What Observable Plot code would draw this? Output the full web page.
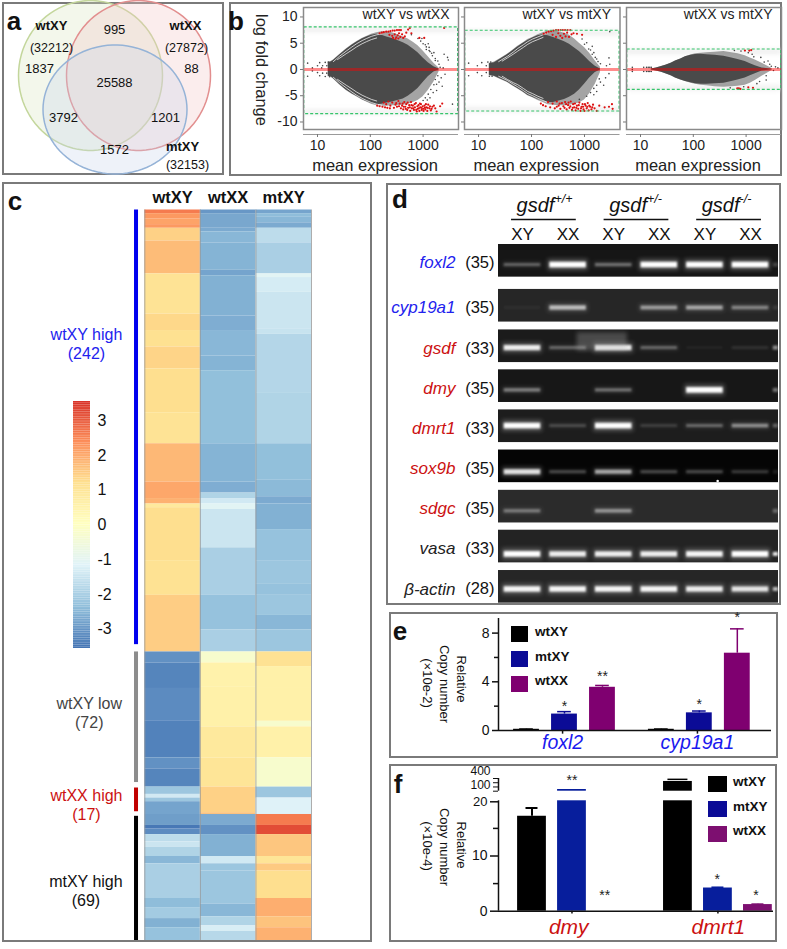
<!DOCTYPE html>
<html>
<head>
<meta charset="utf-8">
<script src="https://cdn.jsdelivr.net/npm/d3@7"></script>
<script src="https://cdn.jsdelivr.net/npm/@observablehq/plot@0.6"></script>
<style>
html,body{margin:0;padding:0;background:#fff}
#page{position:relative;width:787px;height:949px;overflow:hidden;font-family:"Liberation Sans",Arial,sans-serif;color:#111}
#page svg{position:absolute;overflow:visible}
.frame{position:absolute;box-sizing:border-box;border:2px solid #7a7a7a}
.t{position:absolute;white-space:nowrap;line-height:1}
.sq{position:absolute}
</style>
</head>
<body>
<div id="page"></div>
<script>
/* ---------- a: Venn ---------- */
const vennSets = ["wtXY","wtXX","mtXY"];
const vennCx = [90,138,114.5], vennCy = [75,75,109], vennRx = [72,72,72], vennRy = [75,75,64.5];
const vennStroke = ["#c3d69b","#e28e8e","#95b3d7"], vennFill = ["#d7e4bc","#f2c4c4","#c6d5ea"];
const vennCounts = ["995","1837","25588","88","3792","1201","1572"];
const vennCountX = [114,39,114,191,63,165,114], vennCountY = [29,68,82,68,117,117,149];
const vennTotals = ["(32212)","(27872)","(32153)"];
const vennNameX = [51,185,182], vennNameY = [25,25,146], vennTotalX = [51,186,187], vennTotalY = [47,47,164];

/* ---------- b: MA plots ---------- */
const maTitles = ["wtXY vs wtXX","wtXY vs mtXY","wtXX vs mtXY"];
const maUpper = [8,7.37,3.8], maLower = [-8.5,-8,-3.87];
const m12 = [16,18,20,26,35,45,55,70,85,105,132,165,205,260,330,420,520,650,800,1000,1250,1600,2000];
const p1OuterUp = [1.4,1.5,1.8,2.8,3.9,4.7,5.3,5.9,6.3,6.7,7,7.2,7.2,7,6.6,6.2,5.8,5.2,4.5,3.5,2.4,1.2,.3];
const p1OuterDn = [-1.4,-1.5,-1.8,-2.9,-4,-4.7,-5.2,-5.8,-6.2,-6.6,-6.9,-7,-7,-6.9,-6.9,-6.8,-6.6,-6.3,-5.9,-5.2,-4,-2.4,-.5];
const p1CoreUp = [1.3,1.4,1.7,2.7,3.8,4.6,5.2,5.8,6.2,6.5,6.7,6.5,6.2,5.9,5.5,5.1,4.6,3.9,3.2,2.2,1.3,.5,.1];
const p1CoreDn = [-1.3,-1.4,-1.7,-2.8,-3.9,-4.6,-5.1,-5.7,-6.1,-6.5,-6.7,-6.6,-6.4,-6.2,-5.9,-5.6,-5.1,-4.4,-3.6,-2.5,-1.4,-.5,-.1];
const p2OuterUp = [1.2,1.3,1.4,2.1,2.9,3.7,4.4,5.1,5.7,6.1,6.6,7,7.3,7.4,7.2,6.9,6.5,5.8,5,4.2,3.1,1.6,.4];
const p2OuterDn = [-1.2,-1.3,-1.4,-1.9,-2.5,-3.2,-3.7,-4.4,-5,-5.4,-5.9,-6.3,-6.7,-6.8,-6.9,-6.9,-6.8,-6.6,-6.4,-5.8,-4.6,-2.8,-.6];
const p2CoreUp = [1.1,1.2,1.3,2,2.8,3.6,4.3,5,5.5,6,6.4,6.6,6.4,6.1,5.7,5.3,4.8,4.1,3.4,2.5,1.5,.6,.1];
const p2CoreDn = [-1.1,-1.2,-1.3,-1.8,-2.4,-3.1,-3.6,-4.3,-4.9,-5.3,-5.7,-6,-6.3,-6.3,-6,-5.7,-5.3,-4.7,-3.9,-2.8,-1.6,-.6,-.1];
const m3 = [16,20,25,30,38,46,58,71,90,110,140,180,257,380,535,700,960,1200,1490,2000,3100];
const p3OuterUp = [.1,.3,.55,.8,1.2,1.6,2,2.4,2.75,3,3.1,3.2,3.3,3.4,3.2,3,2.6,2.2,1.8,1.2,.2];
const p3OuterDn = [-.1,-.3,-.55,-.8,-1.2,-1.6,-2,-2.3,-2.6,-2.8,-3,-3.1,-3.3,-3.4,-3.3,-3.2,-3,-2.6,-2.1,-1.3,-.2];
const p3CoreUp = [.1,.3,.55,.8,1.2,1.6,2,2.4,2.7,2.85,2.9,2.8,2.7,2.5,2.2,1.9,1.5,1.1,.7,.3,.05];
const p3CoreDn = [-.1,-.3,-.55,-.8,-1.2,-1.6,-2,-2.3,-2.55,-2.7,-2.8,-2.8,-2.7,-2.6,-2.3,-2,-1.6,-1.2,-.8,-.3,-.05];
/* white gaps between the discrete-count wings */
const stripeM1 = [20,26,35,45,55,70,85,105,132,165], stripeV1 = [1.5,2.5,3.5,4.3,4.9,5.5,5.9,6.3,6.6,6.8];
const stripeM2 = [24,35,45,55,70,85,105,132], stripeV2 = [1.9,3,3.7,4.3,4.9,5.3,5.7,6];
const stripeM3 = [24,35,45,55,70,85,105,132,165,205], stripeV3 = [1.5,2.5,3.3,4,4.7,5.3,5.8,6.2,6.6,7];
const stripeM4 = [28,35,45,55,70,85,105,132,165], stripeV4 = [1.6,2.2,2.9,3.5,4.2,4.8,5.3,5.7,6.1];
const stripeV3Dn = [-1.3,-2.1,-2.8,-3.3,-4,-4.6,-5,-5.5,-5.9,-6.3];
const stripeV4Dn = [-1.3,-1.9,-2.5,-2.9,-3.6,-4.2,-4.6,-5.1,-5.5];
const p1Gray = [[6.5,1.2],[6.5,-1.3],[8,.3],[8,-.3],[10,.7],[10,-.6],[11,1.3],[11,-1.2],[12,.3],[12.5,.7],[12.5,-.7],[14,1.35],[14,-1.35],[15,.7],[15,-.7],[16,1.4],[17,-1.4],[600,6.6],[800,5.9],[950,5.9],[1100,4.7],[1250,4.9],[1150,3.8],[1350,3.4],[1500,2.6],[1700,2.1],[1900,1.6],[2000,1],[1800,-2.8],[2000,-2.4],[2200,-1.6],[2500,2.9],[2900,2.3],[2600,-.9],[3000,1.8],[3600,-6.6],[2300,-3.2],[1550,-4.4],[1350,-5.4],[1200,-5.8],[1800,-4],[1300,4.2],[1600,3.2],[2100,.4],[2400,.3],[900,5.4],[1000,4.9],[1150,4.3],[1300,3.6],[1450,3.1],[1700,1.7],[1400,-3.8],[1600,-2.9],[1250,-4.7],[1100,-5.4],[1000,-5.9],[1700,-1.9],[1900,-1.2]];
const p2Gray = [[6.5,1.2],[6.5,-1.2],[9.5,.7],[9.5,-.6],[11.5,1.3],[11.5,-1.2],[14,.7],[14,-.6],[15,1.4],[16,-1.3],[17,1.4],[18,-1.3],[1300,3.7],[1400,2.9],[1600,2.3],[1800,1.5],[2900,2.2],[3000,1],[2900,-.8],[2000,-2.4],[2300,-3],[1700,-4.2],[1500,-4.8],[2600,.7],[1400,4.4],[1100,5.1],[900,5.8],[3000,7.2],[2000,1.1],[2500,-1.6],[1000,4.8],[1200,3.9],[1500,3.2],[1700,2],[1300,-4.4],[1500,-3.6],[1700,-3],[1900,-1.8],[1100,-5.1],[800,-5.7]];
const p3Gray = [[7,.4],[7,-.4],[7,0],[11.5,.4],[11.5,-.4],[13,.4],[13,-.4],[14,.4],[14,-.4],[15,.4],[15,-.4],[16,.4],[16,-.4],[1300,2.9],[1900,2.3],[2200,1.4],[2800,1],[3000,.6],[3300,-.2],[3600,.5],[2400,-1.2],[1800,-2.3],[1600,-2.7],[2400,-2],[4000,.3],[800,3.5],[600,3.6],[1100,3.2],[500,-3.5],[900,-3.3],[1400,2.4],[2600,1.6]];
const p1Red = [[150,6.9],[165,7],[180,7.1],[200,7.2],[220,7.2],[240,7.3],[265,7.4],[290,7.4],[320,7.5],[350,7.5],[380,7.5],[230,6.6],[260,6.4],[290,6.7],[310,6.1],[330,6.5],[350,6.9],[370,6.2],[400,6.7],[420,6],[450,6.3],[480,7],[520,7.6],[560,7.9],[340,5.9],[270,6],[300,5.8],[600,6.9],[850,6],[1050,6],[2500,7.9],
[135,-6.9],[150,-7],[170,-7.1],[190,-7.2],[210,-7.3],[235,-7.4],[180,-6.3],[200,-6.6],[220,-6.1],[240,-6.9],[260,-6.3],[280,-7.3],[300,-6.7],[320,-7.1],[340,-6],[360,-6.5],[380,-7.4],[400,-6.9],[420,-7.6],[440,-6.2],[460,-7.1],[480,-6.6],[500,-7.7],[520,-7.3],[545,-6.8],[570,-7.9],[590,-6.2],[610,-7.4],[640,-6.9],[670,-7.7],[700,-7.2],[730,-6.4],[760,-8],[790,-7.5],[820,-6.8],[850,-7.9],[880,-7.2],[910,-6.6],[940,-7.7],[980,-7],[1020,-7.9],[1060,-6.9],[1100,-7.6],[1150,-7.2],[1200,-7.9],[1250,-6.7],[1320,-7.4],[1400,-7.8],[1500,-7.1],[1600,-6.9],[1800,-8],[2100,-7],[2300,-6.5],
[310,-6.4],[350,-7],[410,-6.5],[430,-7.1],[470,-7.5],[510,-6.3],[560,-7.2],[600,-6.8],[650,-7.4],[690,-6.6],[740,-7.7],[780,-7],[830,-7.4],[870,-6.5],[930,-7.3],[1000,-7.5],[1080,-7.3],[1130,-6.6],[1220,-7.3],[1350,-7],[1450,-7.5],[1700,-7.4]];
const p2Red = [[170,6.8],[190,7],[210,7.2],[235,7.3],[260,7.4],[290,7.5],[320,7.5],[355,7.5],[390,7.5],[430,7.5],[480,7.5],[540,7.5],[250,6.6],[290,6.2],[320,6.9],[350,6.4],[380,6],[410,6.8],[440,6.3],[470,7],[510,6.2],[570,6.7],[620,6.9],[720,6.8],[900,6.6],
[150,-6.5],[165,-6.8],[185,-7],[205,-6.2],[225,-7.2],[250,-6.5],[275,-7.4],[300,-6.1],[325,-6.9],[350,-7.5],[375,-6.4],[400,-7],[430,-6.2],[460,-7.6],[490,-6.8],[520,-7.3],[550,-6.1],[580,-7.7],[610,-6.6],[640,-7.2],[680,-7.8],[720,-6.9],[760,-7.5],[800,-6.3],[840,-7.9],[880,-7.1],[920,-6.6],[960,-7.6],[1000,-7.9],[1050,-6.9],[1100,-7.4],[1150,-6.4],[1200,-7.8],[1280,-7.1],[1350,-7.6],[1450,-6.7],[1550,-7.4],[1700,-7.9],[1900,-6.9],[2400,-7.2],[2900,-7.1],[3300,-6.6],[3400,-7.5],
[300,-7.1],[340,-6.5],[420,-7.3],[450,-6.6],[500,-6.3],[540,-7],[600,-7.3],[660,-6.5],[700,-7.3],[780,-6.8],[860,-7.4],[940,-7.1],[1020,-6.6],[1130,-7.1],[1230,-6.9],[1400,-7.2]];
const p3Red = [[950,3.6],[1150,3.6],[1250,3.7],[680,-3.6],[730,-3.6],[780,-3.7],[1100,-3.4],[1350,-3.5]];

/* ---------- c: heatmap, run-length [end row, z-score] ---------- */
const heatCols = ["wtXY","wtXX","mtXY"];
const heatWtXY = [[2,2.6],[5,2.2],[8,2.05],[10,2.2],[17,1.4],[35,1.7],[57,1.05],[66,1.3],[75,1.15],[87,1.35],[111,1.2],[128,1.05],[149,1.75],[158,2],[161,1.85],[163,.85],[192,1.2],[211,1.1],[242,1.45],[248,-3.1],[262,-3.3],[280,-3.2],[300,-3.35],[306,-3.1],[316,-3.3],[320,-2.2],[322,-1.4],[324,-2.2],[331,-2.8],[337,-2.9],[339,-3.5],[342,-3.2],[346,-1.7],[349,-1.5],[354,-1.9],[358,-2.5],[377,-2],[382,-2.4],[388,-2.1],[393,-2.6],[400,-2.3]];
const heatWtXX = [[2,-3],[10,-2.75],[12,-2.7],[18,-2.5],[33,-2.55],[36,-2.8],[58,-2.6],[66,-2.65],[80,-2.5],[88,-2.55],[128,-2.35],[149,-2.55],[155,-2.65],[158,-1.9],[161,-1.4],[164,-1.1],[185,-1.5],[211,-2],[230,-2.3],[242,-2],[248,-.3],[261,.5],[283,.55],[300,.85],[316,1],[330,1.4],[331,1.6],[337,-2.7],[342,-3.1],[354,-2.6],[358,-1.4],[362,-2.2],[380,-2.2],[387,-2.5],[392,-1.9],[395,-1.3],[400,-1.8]];
const heatMtXY = [[2,-2.8],[4,-2.4],[7,-2.5],[10,-2.7],[18,-1.7],[35,-2],[37,-1.1],[45,-1.35],[65,-1.5],[68,-1.55],[100,-1.85],[128,-1.9],[148,-2.35],[157,-2.45],[161,-2.7],[175,-2.6],[192,-2.3],[205,-2.2],[211,-2.3],[222,-2.2],[230,-2.5],[242,-2.2],[250,1.1],[262,.55],[280,.55],[283,-.3],[300,.55],[316,-.3],[322,-2.2],[331,-1.2],[337,2.6],[342,3.2],[354,1.55],[358,1],[362,1.5],[377,1.2],[387,1.9],[393,1.6],[400,1.85]];
const groupNames = ["wtXY high\n(242)","wtXY low\n(72)","wtXX high\n(17)","mtXY high\n(69)"];
const groupColors = ["#2222ee","#444444","#cc1111","#111111"], barColors = ["#0000ee","#8c8c8c","#c00000","#000000"];
const barStart = [0,242,316.5,332], barEnd = [238,313.5,329.5,400];
const groupLabelX = [-1.05,-1,-1.05,-1.06], groupLabelRow = [73,275,325.4,372.6];
const heatDomain = [-3.55,-2.37,-1.18,0,1.18,2.37,3.55];
const heatRange = ["#4575b4","#91bfdb","#e0f3f8","#ffffbf","#fee090","#fc8d59","#d73027"];
const heatTicks = [-3,-2,-1,0,1,2,3];

/* ---------- d: gels ---------- */
const genes = ["foxl2","cyp19a1","gsdf","dmy","dmrt1","sox9b","sdgc","vasa","β-actin"];
const cycles = ["(35)","(35)","(33)","(35)","(33)","(35)","(35)","(33)","(28)"];
const geneColors = ["#2222ee","#2222ee","#cc1111","#cc1111","#cc1111","#cc1111","#cc1111","#222","#222"];
const gelRow = [0,1.115,2.12,3.11,4.105,5.1,6.1,7.09,8.09];
const gelShade = ["#161616","#262626","#1b1b1b","#171717","#1d1d1d","#050505","#2b2b2b","#232323","#262626"];
const bandDepth = [.51,.46,.45,.51,.4,.55,.52,.6,.47];
const genotypes = ["+/+","+/-","-/-"], lanes = ["XY","XX","XY","XX","XY","XX"];
const intensity = [
  [.3,1,.35,1,1,1],
  [.05,.65,0,.5,.55,.4],
  [.9,.3,.9,.3,.05,.1],
  [.4,0,.35,0,1,0],
  [1,.2,1,.15,.3,.45],
  [.85,.25,.6,.25,.25,.2],
  [.35,0,.45,0,0,0],
  [1,.9,.9,.9,.95,1],
  [.95,.95,.95,.95,.9,.85]];
const edgeBand = [.2,.1,.5,.4,.3,.1,.3,.9,.7];

/* ---------- e / f: qPCR bars ---------- */
const seriesNames = ["wtXY","mtXY","wtXX"];
const eColors = ["#000000","#0b0b96","#7f0070"], fColors = ["#000000","#071e9c","#7d0f70"];
const eGenes = ["foxl2","cyp19a1"], eMean = [[.1,1.35,3.55],[.1,1.45,6.35]], eErr = [[.12,1.55,3.7],[.12,1.6,8.35]];
const eStars = [["","*","**"],["","*","*"]], eStarAt = [[0,2.2,4.7],[0,2.4,9.5]];
const fGenes = ["dmy","dmrt1"], fMean = [[17.2,140,0],[330,4.2,1.2]], fErr = [[18.7,140,0],[380,4.3,1.25]];

/* ---------- helpers ---------- */
const page = document.getElementById("page");
const FONT = '"Liberation Sans",Arial,sans-serif';
const baseStyle = {background:"transparent",fontFamily:FONT,overflow:"visible"};
function put(node,left,top){node.style.left=left+"px";node.style.top=top+"px";page.appendChild(node);return node;}
function frame(x0,y0,x1,y1){const d=document.createElement("div");d.className="frame";d.style.cssText=`left:${x0}px;top:${y0}px;width:${x1-x0}px;height:${y1-y0}px`;page.appendChild(d);}
function txt(s,x,y,o={}){const d=document.createElement("div");d.className="t";d.textContent=s;
  const ax=o.anchor==="start"?"0":o.anchor==="end"?"-100%":"-50%";
  d.style.cssText=`left:${x}px;top:${y}px;font-size:${o.size||13}px;font-weight:${o.weight||"normal"};color:${o.color||"#111"};transform:translate(${ax},-50%) rotate(${o.rotate||0}deg)`;
  page.appendChild(d);}
function square(x0,y0,x1,y1,c){const d=document.createElement("div");d.className="sq";d.style.cssText=`left:${x0}px;top:${y0}px;width:${x1-x0}px;height:${y1-y0}px;background:${c}`;page.appendChild(d);}
const rle = (arr,col)=>arr.map(([end,v],i)=>({col,start:i?arr[i-1][0]:0,end,v}));
const zipPts = (a,b)=>a.map((x,i)=>({x,y:b[i]}));

/* frames */
frame(2,2,224,175);frame(229,2,782,176);frame(2,182,372,942);frame(386,183,781,605);frame(389,612,778,758);frame(389,764,777,942);

/* ---------- panel a ---------- */
const ellipse = i => d3.range(0,360,4).map(a=>({x:vennCx[i]+vennRx[i]*Math.cos(a*Math.PI/180),y:vennCy[i]+vennRy[i]*Math.sin(a*Math.PI/180),set:vennSets[i]}));
put(Plot.plot({width:226,height:178,margin:0,style:baseStyle,
  x:{domain:[0,226],range:[0,226],axis:null},y:{domain:[0,178],range:[0,178],axis:null},
  marks:[
    ...[0,1,2].map(i=>Plot.line(ellipse(i),{x:"x",y:"y",curve:"linear-closed",fill:vennFill[i],fillOpacity:.3,stroke:vennStroke[i],strokeWidth:1.5})),
    Plot.text(vennCounts,{x:(d,i)=>vennCountX[i],y:(d,i)=>vennCountY[i],text:d=>d,fontSize:13,fill:"#111"}),
    Plot.text(vennSets,{x:(d,i)=>vennNameX[i],y:(d,i)=>vennNameY[i],text:d=>d,fontSize:13,fontWeight:"bold",fill:"#111"}),
    Plot.text(vennTotals,{x:(d,i)=>vennTotalX[i],y:(d,i)=>vennTotalY[i],text:d=>d,fontSize:12.5,fill:"#111"})
  ]}),0,0);
txt("a",14,21,{size:26,weight:"bold"});

/* ---------- panel b ---------- */
function ma(i,left,width,mL,mR,m,oU,oD,cU,cD,gray,red,stripes,labels){
  const env = m.map((x,k)=>({m:x,oU:oU[k],oD:oD[k],cU:cU[k],cD:cD[k]}));
  const pts = a=>a.map(([x,y])=>({x,y}));
  return put(Plot.plot({width,height:175,marginLeft:mL,marginRight:mR,marginTop:4,marginBottom:49,style:baseStyle,
    x:{type:"log",domain:[5.43,4680],axis:null},
    y:{domain:[-11.43,11.8],axis:null},
    marks:[
      Plot.ruleY([maUpper[i]-.4,maLower[i]+.4],{stroke:"#efefef",strokeWidth:5,imageFilter:"blur(2px)",clip:true}),
      Plot.areaY(env,{x:"m",y1:"oD",y2:"oU",fill:"#4a4a4a",fillOpacity:.5}),
      Plot.areaY(env,{x:"m",y1:"cD",y2:"cU",fill:"#4a4a4a"}),
      ...stripes.map(s=>Plot.line(s,{x:"x",y:"y",stroke:"#fff",strokeWidth:.8,strokeOpacity:.9})),
      Plot.dot(pts(gray),{x:"x",y:"y",r:.8,fill:"#444"}),
      Plot.dot(pts(red),{x:"x",y:"y",r:1.1,fill:"#dd1111"}),
      Plot.ruleY([0],{stroke:"#f00",strokeOpacity:.45,strokeWidth:3}),
      Plot.rect([0],{x1:()=>5.6,x2:()=>4600,y1:()=>maLower[i],y2:()=>maUpper[i],stroke:"#35c46a",strokeWidth:1.2,strokeDasharray:"3,2",fill:"none"}),
      Plot.frame({stroke:"#8a8a8a",strokeWidth:1.5}),
      Plot.axisY({ticks:[-10,-5,0,5,10],tickSize:3,stroke:"#777",tickFormat:labels?(d=>String(d)):(()=>""),fontSize:14,tickPadding:3,fill:"#222"}),
      Plot.ruleY([-12.38],{x1:5.43,x2:4680,stroke:"#999",strokeWidth:1}),
      Plot.axisX({ticks:[10,100,1000],tickFormat:d=>String(d),tickSize:3,dy:5,stroke:"#777",fontSize:14,fill:"#222",tickPadding:3,label:null}),
      Plot.text(["mean expression"],{frameAnchor:"bottom",dy:36,dx:-6,lineAnchor:"middle",text:d=>d,fontSize:16.5,fill:"#222"}),
      Plot.text([maTitles[i]],{frameAnchor:"top-right",dx:-9,dy:2,lineAnchor:"top",text:d=>d,fontSize:14,fill:"#222"})
    ]}),left,3);
}
const mirror = (m,v)=>[zipPts(m,v),zipPts(m,v.map(d=>-d))];
ma(0,230,232,73,4,m12,p1OuterUp,p1OuterDn,p1CoreUp,p1CoreDn,p1Gray,p1Red,[...mirror(stripeM1,stripeV1),...mirror(stripeM2,stripeV2)],true);
ma(1,450,173.5,14,4,m12,p2OuterUp,p2OuterDn,p2CoreUp,p2CoreDn,p2Gray,p2Red,[zipPts(stripeM3,stripeV3),zipPts(stripeM4,stripeV4),zipPts(stripeM3,stripeV3Dn),zipPts(stripeM4,stripeV4Dn)],false);
ma(2,612,171,14,2,m3,p3OuterUp,p3OuterDn,p3CoreUp,p3CoreDn,p3Gray,p3Red,[],false);
txt("log fold change",262,70,{size:16.5,rotate:90,color:"#222"});
txt("b",236,21,{size:26,weight:"bold"});

/* ---------- panel c ---------- */
const colorScale = {type:"linear",domain:heatDomain,range:heatRange};
const heatCells = [...rle(heatWtXY,0),...rle(heatWtXX,1),...rle(heatMtXY,2)];
put(Plot.plot({width:280,height:740,marginLeft:104.3,marginRight:9,marginTop:4.5,marginBottom:5,style:baseStyle,
  color:colorScale,
  x:{domain:[0,3],axis:null},y:{domain:[0,400],reverse:true,axis:null},
  marks:[
    Plot.rect(heatCells,{x1:"col",x2:d=>d.col+1,y1:"start",y2:"end",fill:"v"}),
    Plot.ruleX([0,1,2,3],{stroke:"#999",strokeOpacity:.8,strokeWidth:1}),
    Plot.rect(barStart,{x1:()=>-.185,x2:()=>-.113,y1:d=>d,y2:(d,i)=>barEnd[i],fill:(d,i)=>barColors[i]}),
    Plot.text(groupNames,{x:(d,i)=>groupLabelX[i],y:(d,i)=>groupLabelRow[i],text:d=>d,fontSize:16,lineHeight:1.22,fill:(d,i)=>groupColors[i]}),
    Plot.text(heatCols,{x:(d,i)=>i+.5,y:()=>0,dy:-12,text:d=>d,fontSize:16.5,fontWeight:"bold",fill:"#111"})
  ]}),40,205);
const ramp = d3.range(-3.55,3.55,.05);
put(Plot.plot({width:60,height:247,marginLeft:0,marginRight:43,marginTop:0,marginBottom:0,style:baseStyle,
  color:colorScale,x:{axis:null,domain:[0,1]},y:{domain:[-3.55,3.55]},
  marks:[
    Plot.rect(ramp,{x1:()=>0,x2:()=>1,y1:d=>d,y2:d=>d+.05,fill:d=>d}),
    Plot.axisY({anchor:"right",ticks:heatTicks,tickSize:0,tickPadding:7,tickFormat:d=>String(d),fontSize:16,label:null,textAnchor:"start",fill:"#111"})
  ]}),73,401);
txt("c",15,201,{size:26,weight:"bold"});

/* ---------- panel d ---------- */
const depth = i=>gelRow[i]+bandDepth[i];
const bands = genes.flatMap((g,i)=>intensity[i].map((a,l)=>({i,l,a})).filter(d=>d.a>0));
const thick = d=>.025+.045*d.a;
const groupStart = [0,2.03,4.06];
put(Plot.plot({width:394,height:421,margin:0,style:baseStyle,
  x:{domain:[-2.982,5.658],range:[0,394],axis:null},
  y:{domain:[-1.489,8.958],range:[0,421],axis:null},
  marks:[
    Plot.rect(genes,{x1:()=>-.526,x2:()=>5.614,y1:(d,i)=>gelRow[i],y2:(d,i)=>gelRow[i]+.81,fill:(d,i)=>gelShade[i]}),
    Plot.rect(bands,{x1:d=>d.l-.44,x2:d=>d.l+.44,y1:d=>depth(d.i)-thick(d)*2,y2:d=>depth(d.i)+thick(d)*2,fill:"#fff",fillOpacity:d=>d.a*.25,imageFilter:"blur(2px)"}),
    Plot.rect(bands,{x1:d=>d.l-.4,x2:d=>d.l+.4,y1:d=>depth(d.i)-thick(d),y2:d=>depth(d.i)+thick(d),fill:"#fff",fillOpacity:d=>d.a,imageFilter:"blur(1px)"}),
    Plot.rect(genes,{x1:()=>5.5,x2:()=>5.614,y1:(d,i)=>depth(i)-.05,y2:(d,i)=>depth(i)+.05,fill:"#fff",fillOpacity:(d,i)=>edgeBand[i],imageFilter:"blur(.8px)"}),
    Plot.rect(["gsdf"],{x1:()=>1.2,x2:()=>2.3,y1:()=>gelRow[2]+.07,y2:()=>gelRow[2]+.52,fill:"#bbb",fillOpacity:.3,imageFilter:"blur(2px)"}),
    Plot.dot(["sox9b"],{x:()=>4.28,y:()=>gelRow[5]+.77,r:1.3,fill:"#fff"}),
    Plot.text(genes,{x:()=>-.526,y:(d,i)=>gelRow[i]+.46,dx:-43,text:d=>d,textAnchor:"end",fontSize:17,fontStyle:"italic",fill:(d,i)=>geneColors[i]}),
    Plot.text(cycles,{x:()=>-.526,y:(d,i)=>gelRow[i]+.46,dx:-4,text:d=>d,textAnchor:"end",fontSize:16.5,fill:"#111"}),
    Plot.text(lanes,{x:(d,i)=>i,y:()=>-.25,text:d=>d,fontSize:17,fill:"#111"}),
    Plot.ruleY(genotypes,{x1:(d,i)=>groupStart[i]-.24,x2:(d,i)=>groupStart[i]+1.18,y:()=>-.62,stroke:"#111",strokeWidth:1.5}),
    Plot.text(genotypes,{x:(d,i)=>groupStart[i]+.7,y:()=>-.97,text:()=>"gsdf",textAnchor:"end",fontSize:20,fontStyle:"italic",fill:"#111"}),
    Plot.text(genotypes,{x:(d,i)=>groupStart[i]+.7,y:()=>-.97,dy:-6,text:d=>d,textAnchor:"start",fontSize:12.5,fontStyle:"italic",fill:"#111"})
  ]}),386,184);
txt("d",400,199,{size:26,weight:"bold"});

/* ---------- panel e ---------- */
const eSlot = (g,s)=>g*3.55+s;
const eRows = eGenes.flatMap((g,gi)=>seriesNames.map((n,s)=>({slot:eSlot(gi,s),v:eMean[gi][s],e:eErr[gi][s],c:eColors[s],star:eStars[gi][s],at:eStarAt[gi][s]})));
put(Plot.plot({width:389,height:146,marginLeft:109,marginRight:7,marginTop:6,marginBottom:28,style:baseStyle,
  x:{domain:[-.737,6.45],axis:null},y:{domain:[0,9.2],axis:null},
  marks:[
    Plot.rect(eRows,{x1:d=>d.slot-.34,x2:d=>d.slot+.34,y1:()=>0,y2:"v",fill:"c"}),
    Plot.ruleX(eRows,{x:"slot",y1:"v",y2:"e",stroke:"c",strokeWidth:1.5}),
    Plot.ruleY(eRows,{y:"e",x1:d=>d.slot-.18,x2:d=>d.slot+.18,stroke:"c",strokeWidth:1.5}),
    Plot.text(eRows,{x:"slot",y:"at",text:"star",fontSize:14,fill:"#222",dy:3}),
    Plot.ruleY([0],{stroke:"#111",strokeWidth:1.5}),
    Plot.ruleX([-.737],{y1:0,y2:9.2,stroke:"#111",strokeWidth:1.5}),
    Plot.axisY({ticks:[0,4,8],tickSize:6,tickPadding:3,tickFormat:d=>String(d),fontSize:14,strokeWidth:1.5,stroke:"#111",fill:"#111",label:null}),
    Plot.axisY({ticks:[2,6],tickSize:4,tickFormat:()=>"",strokeWidth:1.5,stroke:"#111",label:null}),
    Plot.ruleX([.95,4.5],{y1:0,y2:-.3,stroke:"#111",strokeWidth:1.5}),
    Plot.text(eGenes,{x:(d,i)=>[.95,4.5][i],y:()=>0,dy:12,text:d=>d,fontSize:19.5,fontStyle:"italic",fill:"#1a1aee"})
  ]}),389,612);
txt("Relative",461,679,{size:13,rotate:90});
txt("Copy number",444,684,{size:13,rotate:90});
txt("(×10e-2)",427,683,{size:13,rotate:90});
seriesNames.forEach((n,i)=>{square(510.7,626+i*25,528.5,642+i*25,eColors[i]);txt(n,535,632+i*24.5,{size:13.5,weight:"bold",anchor:"start"});});
txt("e",400,631,{size:26,weight:"bold"});

/* ---------- panel f ---------- */
const fSlot = (g,s)=>g*3.65+s;
const fRows = fGenes.flatMap((g,gi)=>seriesNames.map((n,s)=>({slot:fSlot(gi,s),v:fMean[gi][s],e:fErr[gi][s],c:fColors[s]})));
const fx = {domain:[-.8375,6.04],axis:null};
put(Plot.plot({width:388,height:177,marginLeft:109,marginRight:4,marginTop:36.3,marginBottom:30.3,style:baseStyle,
  x:fx,y:{domain:[0,20],axis:null},
  marks:[
    Plot.rect(fRows.filter(d=>d.v>0),{x1:d=>d.slot-.36,x2:d=>d.slot+.36,y1:()=>0,y2:d=>Math.min(d.v,20),fill:"c"}),
    Plot.ruleX(fRows.filter(d=>d.e<=20&&d.v>0),{x:"slot",y1:"v",y2:"e",stroke:"c",strokeWidth:2}),
    Plot.ruleY(fRows.filter(d=>d.e<=20&&d.v>0),{y:"e",x1:d=>d.slot-.15,x2:d=>d.slot+.15,stroke:"c",strokeWidth:2}),
    Plot.text(["**","*","*"],{x:(d,i)=>[1.82,4.63,5.6][i],y:(d,i)=>[3.4,6.3,3.4][i],text:d=>d,fontSize:14,fill:"#222",dy:3}),
    Plot.ruleY([0],{stroke:"#111",strokeWidth:1.5}),
    Plot.ruleX([-.8375],{y1:0,y2:20,stroke:"#111",strokeWidth:1.5}),
    Plot.axisY({ticks:[0,10],tickSize:8,tickPadding:3,tickFormat:d=>String(d),fontSize:14,strokeWidth:1.5,stroke:"#111",fill:"#111",label:null}),
    Plot.axisY({ticks:[20],tickSize:8,tickPadding:3,dy:1,tickFormat:d=>String(d),fontSize:13,strokeWidth:1.5,stroke:"#111",fill:"#111",label:null}),
    Plot.axisY({ticks:[5,15],tickSize:5,tickFormat:()=>"",strokeWidth:1.5,stroke:"#111",label:null}),
    Plot.ruleX([1,4.65],{y1:0,y2:-.5,stroke:"#111",strokeWidth:1.5}),
    Plot.text(fGenes,{x:(d,i)=>[.92,4.66][i],y:()=>0,dy:16,text:d=>d,fontSize:21,fontStyle:"italic",fill:"#cc1111"})
  ]}),389,764);
put(Plot.plot({width:388,height:177,marginLeft:109,marginRight:4,marginTop:14,marginBottom:150.3,style:baseStyle,
  x:fx,y:{domain:[100,400],axis:null},
  marks:[
    Plot.rect(fRows.filter(d=>d.v>100),{x1:d=>d.slot-.36,x2:d=>d.slot+.36,y1:()=>100,y2:"v",fill:"c"}),
    Plot.ruleY(fRows.filter(d=>d.e>d.v&&d.e>100),{y:"e",x1:d=>d.slot-.25,x2:d=>d.slot+.25,stroke:"c",strokeWidth:1.5}),
    Plot.text(["**"],{x:()=>1,y:()=>420,text:d=>d,fontSize:14,fill:"#222",dy:3}),
    Plot.ruleX([-.8375],{y1:100,y2:400,stroke:"#111",strokeWidth:1.5}),
    Plot.axisY({ticks:[100],tickSize:0,tickPadding:8,dy:-6,tickFormat:d=>String(d),fontSize:12,fill:"#111",label:null}),
    Plot.axisY({ticks:[400],tickSize:0,tickPadding:8,dy:-7,tickFormat:d=>String(d),fontSize:12,fill:"#111",label:null}),
    Plot.axisY({ticks:[100,200,300,400],tickSize:5,tickFormat:()=>"",strokeWidth:1,stroke:"#111",label:null})
  ]}),389,764);
txt("Relative",461,845,{size:13,rotate:90});
txt("Copy number",444,847,{size:13,rotate:90});
txt("(×10e-4)",427,846,{size:13,rotate:90});
seriesNames.forEach((n,i)=>{square(708,776+i*25,727,792+i*25,i===1?eColors[1]:fColors[i]);txt(n,733,782+i*24.5,{size:13.5,weight:"bold",anchor:"start"});});
txt("f",398,784,{size:26,weight:"bold"});
</script>
</body>
</html>
